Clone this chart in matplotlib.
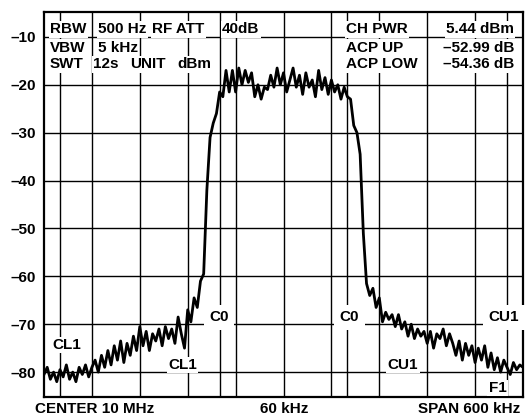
import numpy as np
import matplotlib
matplotlib.use("Agg")
import matplotlib.pyplot as plt

# ---- data ----
freq_start_khz = -300
freq_step_khz = 4
level_dbm = [
    -80.5, -79.0, -81.5, -80.0, -82.0, -79.5, -81.0, -78.5, -81.5, -80.0,   # -300..-264
    -82.0, -79.0, -80.5, -78.5, -81.0, -79.0, -77.5, -80.0, -76.5, -79.0,   # -260..-224
    -75.5, -78.5, -74.5, -77.5, -73.5, -78.0, -74.0, -76.5, -72.5, -75.5,   # -220..-184
    -70.5, -74.5, -71.5, -75.5, -72.0, -73.5, -71.0, -74.5, -70.5, -73.0,   # -180..-144
    -71.0, -74.0, -68.5, -72.0, -75.0, -67.0, -69.5, -64.5, -66.5, -61.0,   # -140..-104
    -59.5, -42.0, -31.0, -28.0, -26.0, -21.5, -22.5, -17.0, -21.5, -17.0,   # -100..-64
    -21.5, -16.5, -20.0, -17.0, -19.5, -17.5, -22.5, -20.0, -23.0, -20.5,   # -60..-24
    -21.0, -18.0, -20.5, -16.5, -20.0, -17.5, -21.5, -19.0, -16.5, -20.5,   # -20..16
    -18.0, -22.0, -17.5, -20.5, -19.0, -22.5, -17.0, -21.0, -18.5, -22.0,   # 20..56
    -19.0, -21.5, -20.0, -23.0, -20.5, -22.5, -23.0, -28.5, -30.0, -34.5,   # 60..96
    -51.0, -61.5, -64.0, -62.5, -66.5, -64.5, -69.5, -67.5, -69.0, -68.0,   # 100..136
    -70.5, -68.0, -71.0, -69.5, -72.5, -70.0, -73.0, -71.0, -72.5, -71.5,   # 140..176
    -74.0, -71.5, -75.0, -72.0, -73.0, -71.0, -74.5, -72.0, -74.0, -76.5,   # 180..216
    -73.5, -77.5, -74.0, -76.5, -74.5, -78.0, -75.0, -77.5, -74.5, -79.0,   # 220..256
    -76.0, -79.5, -77.0, -80.0, -77.5, -79.0, -80.5, -78.0, -79.5, -78.5,   # 260..296
    -79.0,                                                                 # 300
]
freq_khz = [freq_start_khz + freq_step_khz * i for i in range(len(level_dbm))]

y_ticks = [-80, -70, -60, -50, -40, -30, -20, -10]
y_tick_labels = ["\u201380", "\u201370", "\u201360", "\u201350", "\u201340", "\u201330", "\u201320", "\u201310"]
x_grid_khz = [-240, -180, -120, -60, 0, 60, 120, 180, 240]
channel_edges_khz = [-280, -80, 80, 280]

left_rows = [
    [("RBW", 50), ("500 Hz", 98), ("RF ATT", 152), ("40dB", 222)],
    [("VBW", 50), ("5 kHz", 98)],
    [("SWT", 50), ("12s", 93), ("UNIT", 130), ("dBm", 177)],
]
right_names = ["CH PWR", "ACP UP", "ACP LOW"]
right_values = ["5.44 dBm", "\u201352.99 dB", "\u201354.36 dB"]

# ---- figure ----
FONT = "Liberation Sans"
W, H = 526, 416
fig = plt.figure(figsize=(W / 100, H / 100), dpi=100)
L, R, T, B = 44, 523, 12, 397
ax = fig.add_axes([L / W, 1 - B / H, (R - L) / W, (B - T) / H])
ax.set_xlim(-300, 300)
ax.set_ylim(-85.2, -4.8)

for yv in y_ticks:
    ax.axhline(yv, color="black", lw=1.0, zorder=1)
for xv in x_grid_khz + channel_edges_khz:
    ax.axvline(xv, color="black", lw=1.0, zorder=1)

ax.plot(freq_khz, level_dbm, color="black", lw=2.0, zorder=3)

ax.set_xticks([])
ax.set_yticks(y_ticks)
ax.set_yticklabels(y_tick_labels, fontfamily=FONT, fontweight="bold", fontsize=11)
ax.tick_params(axis="y", length=0, pad=6)
for s in ax.spines.values():
    s.set_linewidth(1.6)
    s.set_zorder(5)

def ax_x(px):
    return (px - L) / (R - L)

def ax_y(py):
    return (B - py) / (B - T)

tkw = dict(fontfamily=FONT, fontweight="bold", fontsize=11, transform=ax.transAxes,
           va="baseline", zorder=6)
box = dict(facecolor="white", edgecolor="none", pad=1.0)

baselines = [33.3, 51.7, 68.3]
for row, by in zip(left_rows, baselines):
    for txt, px in row:
        ax.text(ax_x(px), ax_y(by), txt, ha="left", bbox=box, **tkw)
for name, val, by in zip(right_names, right_values, baselines):
    ax.text(ax_x(346), ax_y(by), name, ha="left", bbox=box, **tkw)
    ax.text(ax_x(514), ax_y(by), val, ha="right", bbox=box, **tkw)

bigbox = dict(facecolor="white", edgecolor="none", pad=4.0)
markers = [
    ("C0", 219, 321, bigbox),
    ("C0", 349.5, 321, bigbox),
    ("CU1", 504, 321, bigbox),
    ("CU1", 403, 369, box),
    ("F1", 497.5, 392, box),
    ("CL1", 66.5, 349, box),
    ("CL1", 182.5, 369, box),
]
for txt, px, py, bb in markers:
    ax.text(ax_x(px), ax_y(py), txt, ha="center", bbox=bb, **tkw)

fkw = dict(fontfamily=FONT, fontweight="bold", fontsize=11, va="baseline")
fig.text(35 / W, 1 - 413 / H, "CENTER 10 MHz", ha="left", **fkw)
fig.text(284 / W, 1 - 413 / H, "60 kHz", ha="center", **fkw)
fig.text(520 / W, 1 - 413 / H, "SPAN 600 kHz", ha="right", **fkw)

fig.savefig("out.png", dpi=100, facecolor="white")
